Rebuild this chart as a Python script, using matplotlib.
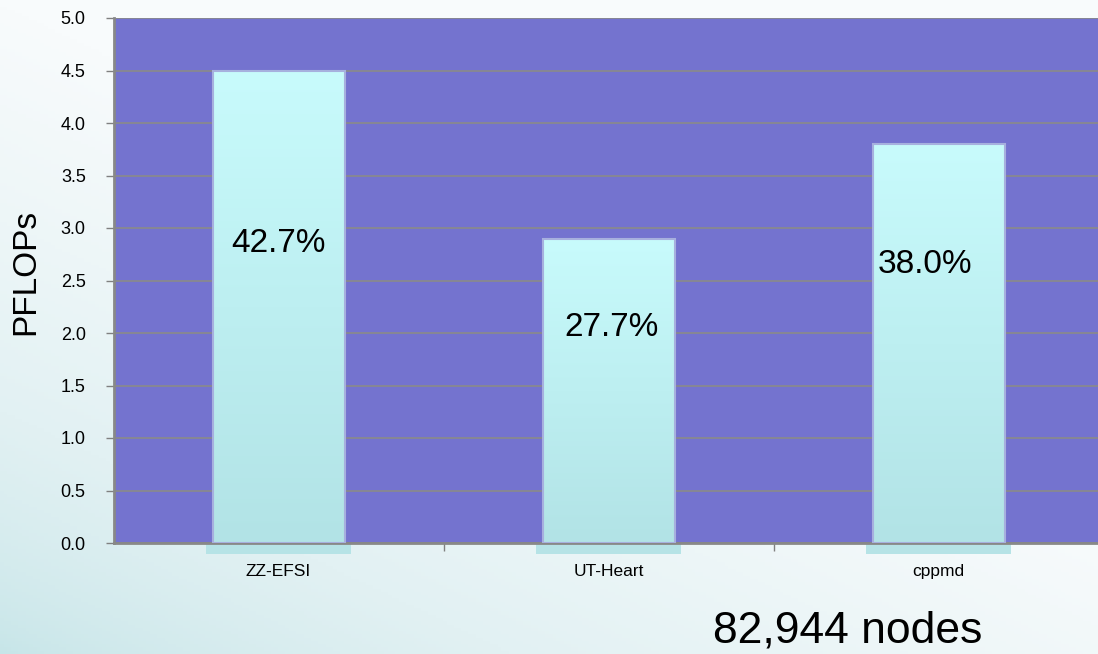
import numpy as np
import matplotlib.pyplot as plt
from matplotlib.colors import LinearSegmentedColormap
from matplotlib.patches import Rectangle

plt.rcParams['font.family'] = ['Liberation Sans', 'DejaVu Sans']

apps = ['ZZ-EFSI', 'UT-Heart', 'cppmd']
pflops = [4.5, 2.9, 3.8]
efficiency = ['42.7%', '27.7%', '38.0%']
# vertical placement of each percentage label (data units)
label_y = [2.85, 2.05, 2.65]
label_dx = [0.0, 0.01, -0.04]
yticks = np.arange(0, 5.01, 0.5)
node_note = '82,944 nodes'

fig = plt.figure(figsize=(10.98, 6.54), dpi=100)

# soft teal-to-white slide background
bg = fig.add_axes([0, 0, 1, 1], zorder=-10)
u, v = np.meshgrid(np.linspace(0, 1, 300), np.linspace(0, 1, 200))
t = np.clip(0.8 * u + 1.0 * v, 0, 1) ** 0.7
bg_cmap = LinearSegmentedColormap.from_list('bg', ['#C6E5E8', '#E2F1F3', '#F8FBFC'])
bg.imshow(t, cmap=bg_cmap, origin='lower', aspect='auto', extent=[0, 1, 0, 1])
bg.set_axis_off()

ax = fig.add_axes([113.5 / 1098, 111 / 654, 990 / 1098, 525 / 654])
ax.set_facecolor('#7473CF')
x = np.arange(len(apps))
width = 0.40

ax.set_xlim(-0.5, 2.5)
ax.set_ylim(0, 5.0)

bar_cmap = LinearSegmentedColormap.from_list('bar', ['#B2E3E6', '#C8FBFC'])
grad = np.linspace(0, 1, 256).reshape(-1, 1)
bars = ax.bar(x, pflops, width, color='none', edgecolor='#A7B0DE',
              linewidth=1.5, zorder=3)
for bar, val in zip(bars, pflops):
    x0 = bar.get_x()
    img = ax.imshow(grad, cmap=bar_cmap, origin='lower', aspect='auto',
                    extent=[x0, x0 + width, 0, val], zorder=2)
    img.set_clip_path(bar)
    # pale reflection strip under the axis
    ax.add_patch(Rectangle((x0 - 0.02, -0.1), width + 0.04, 0.1,
                           facecolor='#B6E3E6', edgecolor='none',
                           clip_on=False, zorder=1))

ax.set_xlim(-0.5, 2.5)
ax.set_ylim(0, 5.0)

for xi, txt, ly, dx in zip(x, efficiency, label_y, label_dx):
    ax.text(xi + dx, ly, txt, ha='center', va='center', fontsize=24,
            color='black', zorder=4)

ax.set_yticks(yticks)
ax.set_yticklabels([f'{v:.1f}' for v in yticks], fontsize=13)
ax.yaxis.grid(True, color='#8A8A8A', linewidth=1.2, zorder=0)
ax.set_axisbelow(True)

ax.set_xticks([0.5, 1.5])
ax.set_xticklabels([])
ax.set_xticks(x, minor=True)
ax.set_xticklabels(apps, minor=True, fontsize=12.5)
ax.tick_params(axis='x', which='minor', length=0, pad=15)
ax.tick_params(axis='x', which='major', length=6, color='#808080', width=1)
ax.tick_params(axis='y', length=6, color='#808080', width=1, pad=14)

for side in ['top', 'right']:
    ax.spines[side].set_visible(False)
for side in ['left', 'bottom']:
    ax.spines[side].set_color('#888888')
    ax.spines[side].set_linewidth(2)

fig.text(26 / 1098, 1 - 272 / 654, 'PFLOPs', rotation=90, fontsize=24,
         ha='center', va='center')
fig.text(848 / 1098, 1 - 631 / 654, node_note, fontsize=32,
         ha='center', va='center')

fig.savefig('out.png', dpi=100)
